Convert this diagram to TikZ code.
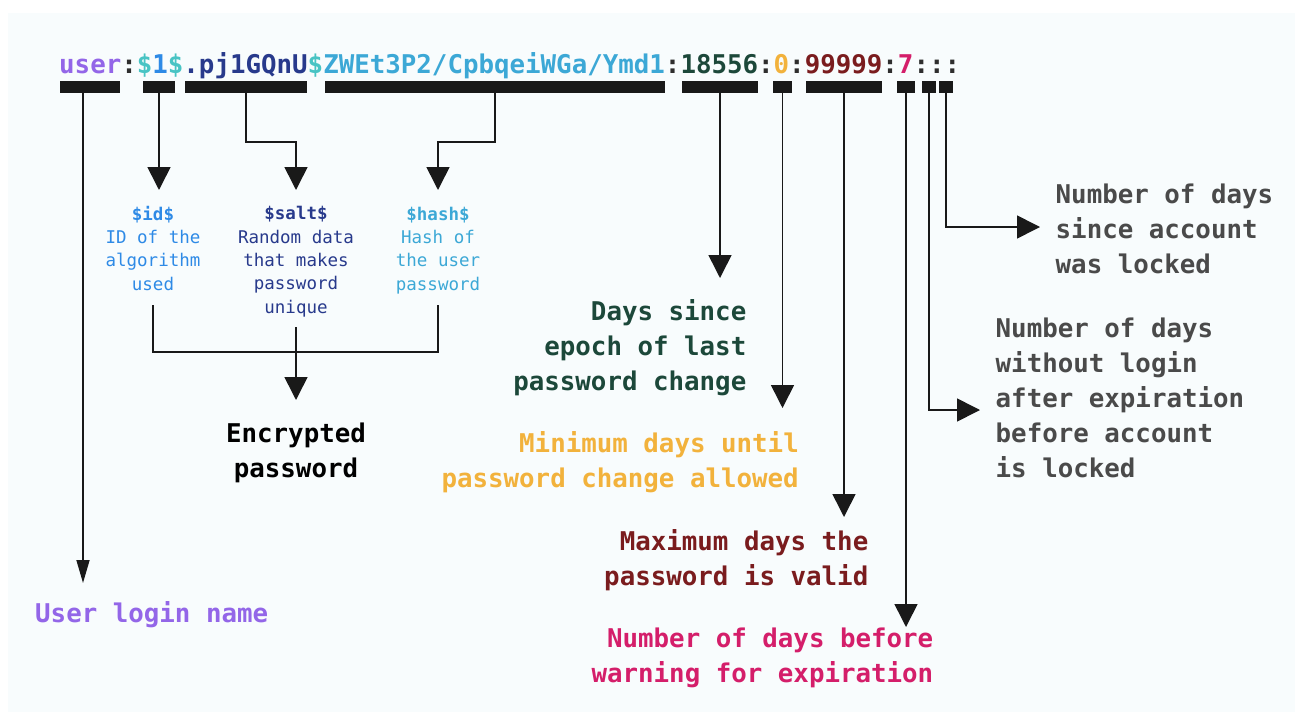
\documentclass[tikz,border=0pt]{standalone}
\usepackage{fontspec}
\setmonofont{DejaVu Sans Mono}
\usetikzlibrary{arrows.meta,positioning}
\definecolor{paper}{RGB}{248,252,253}
\definecolor{cuser}{RGB}{147,102,232}
\definecolor{cdollar}{RGB}{72,196,196}
\definecolor{cid}{RGB}{46,138,230}
\definecolor{csalt}{RGB}{40,58,140}
\definecolor{chash}{RGB}{60,168,214}
\definecolor{clast}{RGB}{28,72,58}
\definecolor{cmin}{RGB}{242,178,60}
\definecolor{cmax}{RGB}{122,28,30}
\definecolor{cwarn}{RGB}{212,30,106}
\definecolor{clock}{RGB}{74,74,74}

\begin{document}
\begin{tikzpicture}[x=1pt,y=-1pt,>={Triangle[width=23pt,length=23pt]},
    big/.style={font=\ttfamily\bfseries\fontsize{25.8}{35}\selectfont,inner sep=0pt},
    small/.style={font=\ttfamily\fontsize{17.5}{23.3}\selectfont,inner sep=0pt,align=center,anchor=base},
    bar/.style={fill=black!90,inner sep=0pt,minimum height=12pt},
    link/.style={line width=1.6pt,black!90}]
  \useasboundingbox (0,0) rectangle (1303,720);
  \fill[white] (0,0) rectangle (1303,720);
  \fill[paper] (8,13) rectangle (1295,712);

  \node[big,anchor=base west,text=black!82] (pw) at (59,73) {{\color{cuser}user}:{\color{cdollar}\$}{\color{cid}1}{\color{cdollar}\$}{\color{csalt}.pj1GQnU}{\color{cdollar}\$}{\color{chash}ZWEt3P2/CpbqeiWGa/Ymd1}:{\color{clast}18556}:{\color{cmin}0}:{\color{cmax}99999}:{\color{cwarn}7}:::};
  \foreach \nm/\cx/\w in {usr/90/60,id/159/32,salt/246/122,hash/495/340,last/720/76,
      min/782.5/19,max/844/76,warn/906/18,inact/929/14,expd/946/14}
    \node[bar,minimum width=\w pt] (\nm) at (\cx,86.5) {};

  \coordinate (usrtip) at (83,583);
  \coordinate (idtip) at (159,190);
  \coordinate (salttip) at (296,190);
  \coordinate (hashtip) at (438,190);
  \coordinate (encjoin) at (296,352);
  \coordinate (enctip) at (296,400);
  \coordinate (lasttip) at (720,278);
  \coordinate (mintip) at (782.5,408);
  \coordinate (maxtip) at (844,517);
  \coordinate (warntip) at (906,627);
  \coordinate (inacttip) at (980,410);
  \coordinate (expdtip) at (1040,227);

  \node[big,anchor=base west,text=cuser] (usrtxt) at (35,622) {User login name};
  \node[small,text=cid] (idtxt) at (153,290) {\textbf{\$id\$}\\ID of the\\algorithm\\used};
  \node[small,text=csalt] (salttxt) at (296,313) {\textbf{\$salt\$}\\Random data\\that makes\\password\\unique};
  \node[small,text=chash] (hashtxt) at (438,290) {\textbf{\$hash\$}\\Hash of\\the user\\password};
  \node[big,align=center,anchor=base] (enc) at (296,477) {Encrypted\\password};
  \node[big,align=right,anchor=base east,text=clast] (lasttxt) at (746.5,390) {Days since\\epoch of last\\password change};
  \node[big,align=right,anchor=base east,text=cmin] (mintxt) at (799,487) {Minimum days until\\password change allowed};
  \node[big,align=right,anchor=base east,text=cmax] (maxtxt) at (868.5,585) {Maximum days the\\password is valid};
  \node[big,align=right,anchor=base east,text=cwarn] (warntxt) at (933.5,682) {Number of days before\\warning for expiration};
  \node[big,align=left,anchor=base west,text=clock] (inacttxt) at (995.5,477) {Number of days\\without login\\after expiration\\before account\\is locked};
  \node[big,align=left,anchor=base west,text=clock] (expdtxt) at (1055.5,273) {Number of days\\since account\\was locked};

  \draw[link,-{Triangle[width=13pt,length=23pt]}] ([xshift=-7pt]usr.south) -- (usrtip);
  \draw[link,->] (id.south) -- (idtip);
  \draw[link,->] (salt.south) -- ++(0,49) -| (salttip);
  \draw[link,->] (hash.south) -- ++(0,49) -| (hashtip);
  \draw[link] (idtxt.south |- 0,305) |- (encjoin) -| (hashtxt.south |- 0,305);
  \draw[link,->] (salttxt.south |- 0,327) -- (enctip);
  \draw[link,->] (last.south) -- (lasttip);
  \draw[link,->] (min.south) -- (mintip);
  \draw[link,->] (max.south) -- (maxtip);
  \draw[link,->] (warn.south) -- (warntip);
  \draw[link,->] (inact.south) |- (inacttip);
  \draw[link,->] (expd.south) |- (expdtip);
\end{tikzpicture}
\end{document}
